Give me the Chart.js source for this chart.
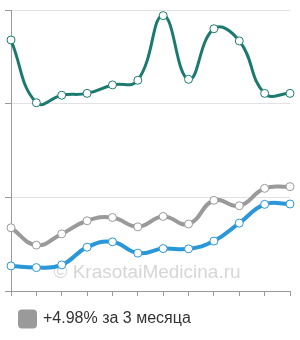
<!DOCTYPE html>
<html>
<head>
<meta charset="utf-8">
<script src="https://cdn.jsdelivr.net/npm/chart.js@4"></script>
<style>
  html, body { margin: 0; padding: 0; background: #fff; }
  #wrap { width: 300px; height: 340px; }
</style>
</head>
<body>
<div id="wrap"><canvas id="chart" width="300" height="340"></canvas></div>
<script>
const months = ["1", "2", "3", "4", "5", "6", "7", "8", "9", "10", "11", "12"];
const tealValues = [26.8, 20.1, 20.9, 21.1, 22.0, 22.5, 29.4, 22.6, 28.0, 26.7, 21.1, 21.1];
const grayValues = [6.75, 4.9, 6.1, 7.5, 7.85, 6.85, 7.96, 7.15, 9.68, 9.1, 10.96, 11.14];
const blueValues = [2.68, 2.5, 2.79, 4.68, 5.25, 4.04, 4.53, 4.5, 5.33, 7.25, 9.25, 9.29];
const legendText = "+4.98% за 3 месяца";

const ctx = document.getElementById("chart");

// light watermark drawn under the lines
const watermark = {
  id: "watermark",
  beforeDatasetsDraw(chart) {
    const c = chart.ctx;
    c.save();
    c.font = "19px 'Liberation Sans', Arial, sans-serif";
    c.fillStyle = "rgba(200,200,200,0.75)";
    c.textAlign = "center";
    c.textBaseline = "alphabetic";
    c.fillText("© KrasotaiMedicina.ru", 147, 278);
    c.restore();
  }
};

const line = (label, values, color, width) => ({
  label: label,
  data: values,
  borderColor: color,
  backgroundColor: color,
  borderWidth: width,
  tension: 0.45,
  pointRadius: 4,
  pointBorderWidth: 1,
  pointBackgroundColor: "#ffffff",
  pointBorderColor: color,
  fill: false
});

new Chart(ctx, {
  type: "line",
  plugins: [watermark],
  data: {
    labels: months,
    datasets: [
      line("teal", tealValues, "#1b7a6f", 3),
      line(legendText, grayValues, "#9a9a9a", 4),
      line("blue", blueValues, "#2a97d8", 4)
    ]
  },
  options: {
    responsive: false,
    animation: false,
    layout: { padding: { left: 5, right: 10, top: 10, bottom: 3 } },
    scales: {
      x: {
        grid: { drawOnChartArea: false, tickLength: 5, tickColor: "#999" },
        border: { color: "#999" },
        ticks: { display: false }
      },
      y: {
        min: 0,
        max: 30,
        grid: { color: "#e2e2e2", tickLength: 6, tickColor: "#999" },
        border: { color: "#999" },
        ticks: { display: false, stepSize: 10 }
      }
    },
    plugins: {
      tooltip: { enabled: false },
      legend: {
        position: "bottom",
        align: "start",
        labels: {
          filter: (item) => item.datasetIndex === 1,
          boxWidth: 15,
          boxHeight: 15,
          padding: 15,
          useBorderRadius: true,
          borderRadius: 2,
          color: "#333",
          font: { size: 16, family: "'Liberation Sans', Arial, sans-serif" }
        }
      }
    }
  }
});
</script>
</body>
</html>
